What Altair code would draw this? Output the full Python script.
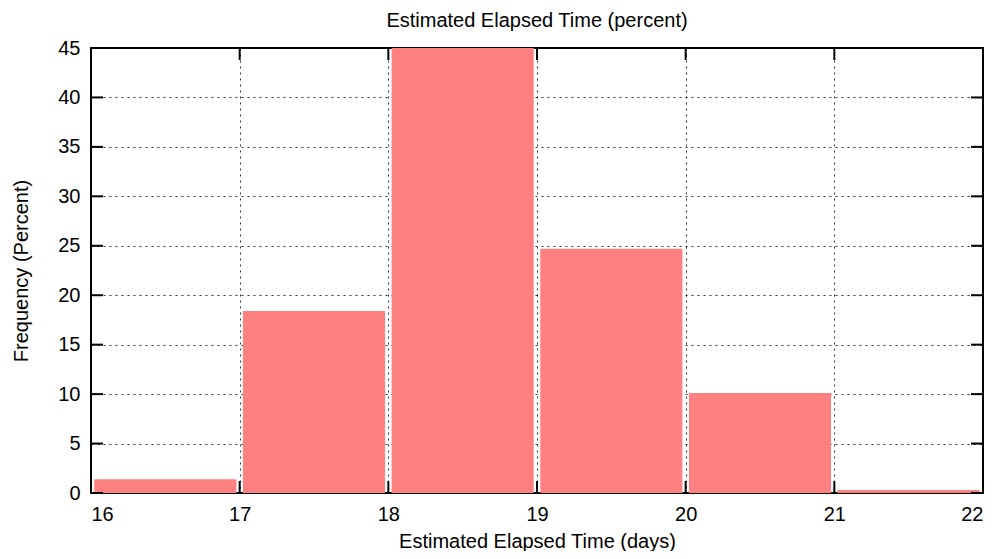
import altair as alt
import pandas as pd

bin_start = [16, 17, 18, 19, 20, 21]
percent = [1.4, 18.4, 45.0, 24.7, 10.1, 0.3]
x_ticks = [16, 17, 18, 19, 20, 21, 22]
y_ticks = [0, 5, 10, 15, 20, 25, 30, 35, 40, 45]

bars_df = pd.DataFrame({"start": bin_start, "pct": percent})
xt_df = pd.DataFrame({"t": x_ticks})
yt_df = pd.DataFrame({"t": y_ticks})

W, H = 892, 445
FONT = "Liberation Sans"
xs = alt.Scale(domain=[16, 22], nice=False, zero=False)
ys = alt.Scale(domain=[0, 45], nice=False)

common = dict(grid=True, gridDash=[2, 4], gridColor="#000000", gridOpacity=0.8,
              ticks=False, domain=False, format="d",
              labelFont=FONT, titleFont=FONT, labelFontSize=20, titleFontSize=20,
              titleFontWeight="normal", labelColor="black", titleColor="black")
base_axis_x = alt.Axis(values=x_ticks, labelPadding=11,
                       title="Estimated Elapsed Time (days)", titlePadding=7, **common)
base_axis_y = alt.Axis(values=y_ticks, labelPadding=11,
                       title="Frequency (Percent)", titlePadding=26, **common)

bars = alt.Chart(bars_df).transform_calculate(
    x0="datum.start + 0.022", x1="datum.start + 0.978"
).mark_rect(color="#FF8080").encode(
    x=alt.X("x0:Q", scale=xs, axis=base_axis_x),
    x2="x1:Q",
    y=alt.Y("pct:Q", scale=ys, axis=base_axis_y),
    y2=alt.datum(0),
)

tl = 12
tick_style = dict(color="black", thickness=2, size=tl, opacity=1)
xb = alt.Chart(xt_df).mark_tick(orient="vertical", **tick_style).encode(
    x=alt.X("t:Q", scale=xs), y=alt.value(H - tl / 2))
xtp = alt.Chart(xt_df).mark_tick(orient="vertical", **tick_style).encode(
    x=alt.X("t:Q", scale=xs), y=alt.value(tl / 2))
yl = alt.Chart(yt_df).mark_tick(orient="horizontal", **tick_style).encode(
    y=alt.Y("t:Q", scale=ys), x=alt.value(tl / 2))
yr = alt.Chart(yt_df).mark_tick(orient="horizontal", **tick_style).encode(
    y=alt.Y("t:Q", scale=ys), x=alt.value(W - tl / 2))

chart = alt.layer(bars, xb, xtp, yl, yr).properties(
    width=W, height=H,
    title=alt.TitleParams("Estimated Elapsed Time (percent)", fontSize=20, font=FONT,
                          fontWeight="normal", color="black", offset=7),
    autosize=alt.AutoSizeParams(type="none"),
    padding={"left": 83, "top": 40, "right": 8, "bottom": 58},
    background="white",
).configure_view(stroke="black", strokeWidth=2)

chart.save("out.html", embed_options={"renderer": "svg", "actions": False})
